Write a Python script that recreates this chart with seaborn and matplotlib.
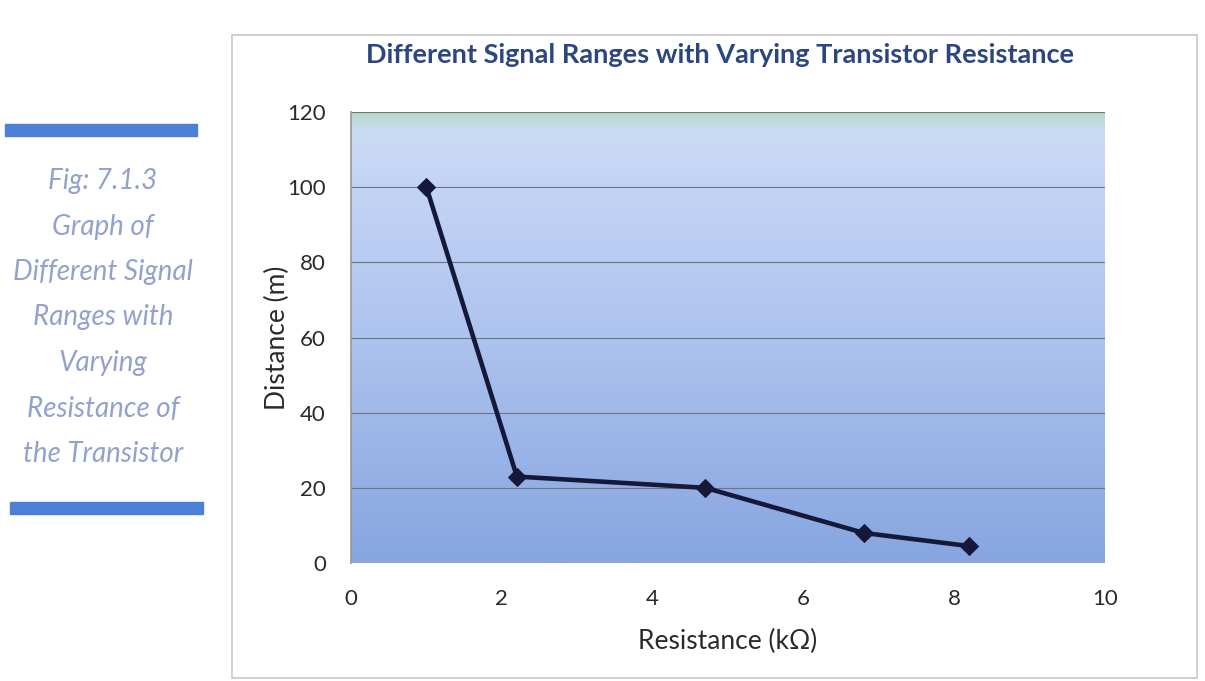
import numpy as np
import pandas as pd
import matplotlib
matplotlib.use("Agg")
import matplotlib.pyplot as plt
from matplotlib.patches import Rectangle
from matplotlib.colors import LinearSegmentedColormap
import seaborn as sns

# ---- data ----
resistance = [1.0, 2.2, 4.7, 6.8, 8.2]
distance = [100, 23, 20, 8, 4.5]
x_ticks = [0, 2, 4, 6, 8, 10]
y_ticks = [0, 20, 40, 60, 80, 100, 120]
title = "Different Signal Ranges with Varying Transistor Resistance"
x_label = "Resistance (k\u03a9)"
y_label = "Distance (m)"
caption_lines = ["Fig: 7.1.3", "Graph of", "Different Signal", "Ranges with",
                 "Varying", "Resistance of", "the Transistor"]

df = pd.DataFrame({"Resistance": resistance, "Distance": distance})

sns.set_theme(style="white")
plt.rcParams['font.family'] = ['Lato', 'DejaVu Sans']

fig = plt.figure(figsize=(12.05, 6.81), dpi=100)
fig.patch.set_facecolor("white")

# chart outer frame
fig.add_artist(Rectangle((232/1205, 1-678/681), (1197-232)/1205, (678-35)/681,
                         transform=fig.transFigure, fill=False,
                         edgecolor="#c8c8c8", linewidth=1.2))

ax = fig.add_axes([351/1205, 1-563/681, (1105-351)/1205, (563-112)/681])

# gradient background
cmap = LinearSegmentedColormap.from_list(
    "bg", [(0.0, "#87a5df"), (0.5, "#adc3ef"), (0.9, "#c8d7f5"),
           (0.96, "#c9dbf0"), (1.0, "#b9d8c9")])
grad = np.linspace(0, 1, 256).reshape(-1, 1)
ax.imshow(grad, extent=[0, 10, 0, 120], origin="lower", aspect="auto",
          cmap=cmap, zorder=0)

for yv in y_ticks[1:]:
    ax.axhline(yv, color="#6f7580", linewidth=0.8, zorder=1)

sns.lineplot(data=df, x="Resistance", y="Distance", ax=ax, color="#16183a",
             linewidth=3.3, marker="D", markersize=9, markeredgecolor="#16183a",
             zorder=3)

ax.set_xlim(0, 10)
ax.set_ylim(0, 120)
ax.set_xticks(x_ticks)
ax.set_yticks(y_ticks)
ax.tick_params(axis="y", labelsize=16, colors="#2a2a2a", length=0, pad=18)
ax.tick_params(axis="x", labelsize=16, colors="#2a2a2a", length=0, pad=19)
for s in ax.spines.values():
    s.set_visible(False)
ax.spines["left"].set_visible(True)
ax.spines["left"].set_color("#9a9a9a")
ax.set_xlabel(x_label, fontsize=19, color="#2a2a2a", labelpad=14)
ax.set_ylabel(y_label, fontsize=19, color="#2a2a2a", labelpad=-2)

fig.text(720/1205, 1-55/681, title, ha="center", va="center", fontsize=19.5,
         fontweight="bold", color="#2c4680")

# left caption
fig.add_artist(Rectangle((5/1205, 1-136/681), 192/1205, 12/681,
                         transform=fig.transFigure, color="#4b7fd8"))
fig.add_artist(Rectangle((10/1205, 1-514/681), 193/1205, 12/681,
                         transform=fig.transFigure, color="#4b7fd8"))
y0 = 181
for i, line in enumerate(caption_lines):
    fig.text(103/1205, 1-(y0 + i*45.5)/681, line, ha="center", va="center",
             fontsize=20, style="italic", color="#92a2cc")

fig.savefig("out.png", dpi=100)
